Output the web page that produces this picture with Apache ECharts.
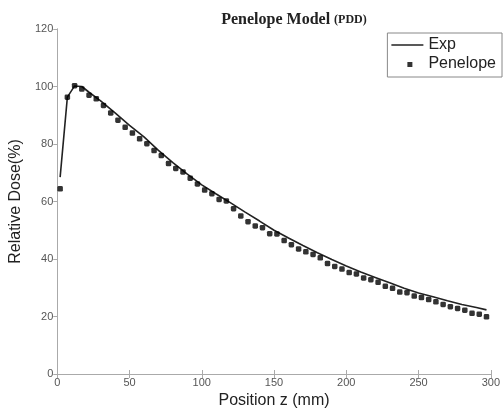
<!DOCTYPE html>
<html><head><meta charset="utf-8">
<script src="https://cdn.jsdelivr.net/npm/echarts@6/dist/echarts.min.js"></script>
<style>html,body{margin:0;padding:0;background:#fff}#c{width:503px;height:414px}</style>
</head><body><div id="c"></div>
<script>
const xTicks = [0, 50, 100, 150, 200, 250, 300];
const yTicks = [0, 20, 40, 60, 80, 100, 120];
const expX = [2, 7, 12, 17, 22, 30, 40, 50, 60, 70, 80, 90, 100, 110, 120, 130, 140, 150, 160, 170, 180, 190, 200, 210, 220, 230, 240, 250, 260, 270, 280, 290, 297];
const expY = [68.5, 96.3, 100.2, 100, 98, 95, 90.8, 86.5, 82.5, 77.8, 73.5, 69.5, 65.8, 62.6, 59.5, 56.3, 53.2, 50, 47.3, 44.7, 42.2, 39.8, 37.6, 35.5, 33.6, 31.7, 29.8, 28.2, 26.9, 25.5, 24.2, 23.1, 22.3];
const penX = [2, 7, 12, 17, 22, 27, 32, 37, 42, 47, 52, 57, 62, 67, 72, 77, 82, 87, 92, 97, 102, 107, 112, 117, 122, 127, 132, 137, 142, 147, 152, 157, 162, 167, 172, 177, 182, 187, 192, 197, 202, 207, 212, 217, 222, 227, 232, 237, 242, 247, 252, 257, 262, 267, 272, 277, 282, 287, 292, 297];
const penY = [64.4, 96.3, 100.3, 99.1, 97, 95.7, 93.4, 90.8, 88.3, 85.8, 83.8, 81.8, 80.1, 77.7, 76, 73.2, 71.5, 70.3, 68.1, 66.1, 64, 62.7, 60.7, 60.2, 57.5, 55, 53, 51.5, 50.9, 48.8, 48.7, 46.4, 45, 43.5, 42.5, 41.6, 40.4, 38.4, 37.4, 36.5, 35.3, 34.8, 33.4, 32.8, 31.9, 30.5, 29.8, 28.5, 28.3, 27.1, 26.6, 25.9, 25.1, 24.2, 23.4, 22.8, 22.2, 21.1, 20.8, 19.9];

const chart = echarts.init(document.getElementById('c'), null, {renderer: 'canvas'});
const axisGray = '#aaaaaa';
const labelGray = '#555555';
const hiddenAxisCommon = {
  axisLine: {show: true, lineStyle: {color: axisGray, width: 1}},
  axisTick: {show: true, inside: true, length: 4, lineStyle: {color: axisGray}},
  axisLabel: {show: false},
  splitLine: {show: false}
};
chart.setOption({
  animation: false,
  backgroundColor: '#fff',
  title: {
    text: '{a|Penelope Model }{b|(PDD)}',
    left: 289, top: 7, textAlign: 'center',
    textStyle: {
      rich: {
        a: {fontFamily: 'Liberation Serif', fontWeight: 'bold', fontSize: 16, color: '#222'},
        b: {fontFamily: 'Liberation Serif', fontWeight: 'bold', fontSize: 12, color: '#222'}
      }
    }
  },
  legend: {
    right: 1, top: 33,
    orient: 'vertical',
    backgroundColor: '#fff',
    borderColor: '#888', borderWidth: 1, borderRadius: 0,
    padding: [4, 6, 5, 4],
    itemGap: 3,
    itemWidth: 32, itemHeight: 14,
    textStyle: {fontFamily: 'Liberation Sans', fontSize: 16, color: '#222'},
    data: [
      {name: 'Exp', icon: 'path://M0,7L32,7L32,8.5L0,8.5Z'},
      {name: 'Penelope', icon: 'path://M0,0L0.01,0L0.01,0.01ZM32,14L31.99,14L31.99,13.99ZM16,5L21,5L21,10L16,10Z'}
    ]
  },
  grid: {left: 53, right: 5, top: 29, bottom: 34, containLabel: false},
  xAxis: [{
    type: 'value', min: 0, max: 300, interval: 50,
    position: 'bottom',
    name: 'Position z (mm)', nameLocation: 'middle', nameGap: 19,
    nameTextStyle: {fontFamily: 'Liberation Sans', fontSize: 16, color: '#222'},
    axisLine: {show: true, lineStyle: {color: axisGray, width: 1}},
    axisTick: {show: true, inside: true, length: 4, lineStyle: {color: axisGray}},
    axisLabel: {fontFamily: 'Liberation Sans', fontSize: 11, color: labelGray, margin: 3,
      customValues: xTicks},
    splitLine: {show: false}
  }, Object.assign({type: 'value', min: 0, max: 300, interval: 50, position: 'top'}, hiddenAxisCommon)],
  yAxis: [{
    type: 'value', min: 0, max: 120, interval: 20,
    position: 'left',
    name: 'Relative Dose(%)', nameLocation: 'middle', nameGap: 25, nameRotate: 90,
    nameTextStyle: {fontFamily: 'Liberation Sans', fontSize: 16, color: '#222'},
    axisLine: {show: true, lineStyle: {color: axisGray, width: 1}},
    axisTick: {show: true, inside: false, length: 3, lineStyle: {color: axisGray}},
    axisLabel: {fontFamily: 'Liberation Sans', fontSize: 11, color: labelGray, margin: 4,
      customValues: yTicks},
    splitLine: {show: false}
  }, Object.assign({type: 'value', min: 0, max: 120, interval: 20, position: 'right'}, hiddenAxisCommon)],
  series: [{
    name: 'Exp', type: 'line',
    data: expX.map((x, i) => [x, expY[i]]),
    showSymbol: false, symbol: 'none',
    lineStyle: {color: '#222', width: 1.6},
    itemStyle: {color: '#222'},
    z: 2
  }, {
    name: 'Penelope', type: 'scatter',
    data: penX.map((x, i) => [x, penY[i]]),
    symbol: 'roundRect', symbolSize: 5.5,
    itemStyle: {color: '#000'},
    z: 3
  }]
});
</script>
</body></html>
